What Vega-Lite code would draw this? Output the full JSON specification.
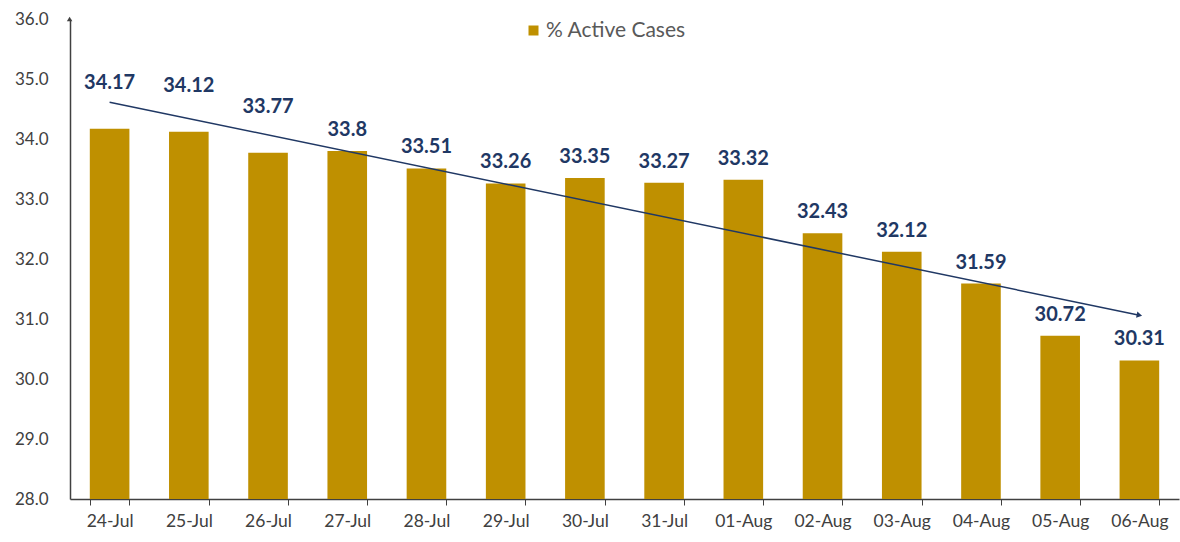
{
  "$schema": "https://vega.github.io/schema/vega-lite/v6.json",
  "width": 1109,
  "height": 480,
  "autosize": {"type": "none"},
  "padding": {"left": 70, "top": 19, "right": 1, "bottom": 43},
  "background": "white",
  "config": {
    "view": {"stroke": null},
    "font": "Lato",
    "axis": {"labelFont": "Lato", "labelColor": "#404040", "domainColor": "#404040", "tickColor": "#404040", "grid": false}
  },
  "datasets": {
    "days": [
      {"date": "24-Jul", "i": 0, "v": 34.17},
      {"date": "25-Jul", "i": 1, "v": 34.12},
      {"date": "26-Jul", "i": 2, "v": 33.77},
      {"date": "27-Jul", "i": 3, "v": 33.8},
      {"date": "28-Jul", "i": 4, "v": 33.51},
      {"date": "29-Jul", "i": 5, "v": 33.26},
      {"date": "30-Jul", "i": 6, "v": 33.35},
      {"date": "31-Jul", "i": 7, "v": 33.27},
      {"date": "01-Aug", "i": 8, "v": 33.32},
      {"date": "02-Aug", "i": 9, "v": 32.43},
      {"date": "03-Aug", "i": 10, "v": 32.12},
      {"date": "04-Aug", "i": 11, "v": 31.59},
      {"date": "05-Aug", "i": 12, "v": 30.72},
      {"date": "06-Aug", "i": 13, "v": 30.31}
    ]
  },
  "data": {"name": "days"},
  "encoding": {
    "x": {
      "field": "date", "type": "ordinal", "sort": null,
      "scale": {"paddingInner": 0.5, "paddingOuter": 0.25},
      "axis": {"title": null, "labelAngle": 0, "tickBand": "extent", "tickSize": 6, "labelFontSize": 17.5, "labelPadding": 7, "domainWidth": 1.5}
    },
    "y": {
      "field": "v", "type": "quantitative",
      "scale": {"domain": [28, 36], "zero": false, "nice": false},
      "axis": {"title": null, "values": [28, 29, 30, 31, 32, 33, 34, 35, 36], "format": ".1f", "ticks": false, "labelFontSize": 17, "labelPadding": 22, "domainWidth": 1.5}
    }
  },
  "layer": [
    {
      "mark": {"type": "bar", "clip": true},
      "encoding": {
        "color": {
          "datum": "% Active Cases",
          "scale": {"range": ["#BF9000"]},
          "legend": {"title": null, "orient": "none", "legendX": 453, "legendY": 1, "symbolType": "square", "symbolSize": 100, "labelFontSize": 21, "labelColor": "#595959", "labelFont": "Lato", "labelOffset": 2}
        }
      }
    },
    {
      "transform": [{"filter": "datum.i > 2"}],
      "mark": {"type": "text", "baseline": "middle", "dy": -21, "fontSize": 20, "fontWeight": "bold", "color": "#1F3864"},
      "encoding": {"text": {"field": "v", "type": "quantitative"}}
    },
    {
      "transform": [{"filter": "datum.i <= 2"}],
      "mark": {"type": "text", "baseline": "middle", "dy": -46, "fontSize": 20, "fontWeight": "bold", "color": "#1F3864"},
      "encoding": {"text": {"field": "v", "type": "quantitative"}}
    },
    {
      "transform": [
        {"regression": "v", "on": "i"},
        {"lookup": "i", "from": {"data": {"name": "days"}, "key": "i", "fields": ["date"]}}
      ],
      "mark": {"type": "line", "color": "#203864", "strokeWidth": 1.5},
      "encoding": {}
    },
    {
      "transform": [
        {"regression": "v", "on": "i"},
        {"filter": "datum.i > 6"},
        {"lookup": "i", "from": {"data": {"name": "days"}, "key": "i", "fields": ["date"]}}
      ],
      "mark": {"type": "point", "shape": "triangle-right", "filled": true, "size": 40, "angle": 12, "color": "#203864", "opacity": 1},
      "encoding": {}
    },
    {
      "transform": [{"filter": "datum.i == 0"}],
      "mark": {"type": "point", "shape": "triangle-up", "filled": true, "size": 30, "color": "#404040", "opacity": 1, "clip": false},
      "encoding": {
        "y": {"datum": 36, "type": "quantitative"},
        "xOffset": {"value": -20.2}
      }
    }
  ]
}
